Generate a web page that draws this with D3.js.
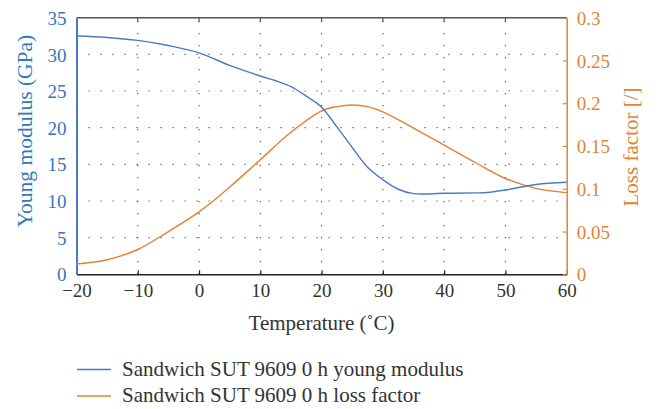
<!DOCTYPE html>
<html><head><meta charset="utf-8">
<script src="https://cdn.jsdelivr.net/npm/d3@7"></script>
<style>body{margin:0;background:#fff}svg{display:block}text{font-family:"Liberation Serif","DejaVu Serif",serif}</style>
</head><body><svg id="c" width="662" height="409"></svg>
<script>
const temps = [-20,-15,-10,-5,0,5,10,12.5,15,17.5,20,22.5,25,27.5,30,32.5,35,40,45,47,50,55,60];
const modulus = [32.5,32.3,31.9,31.2,30.2,28.5,27.05,26.4,25.6,24.3,22.8,20.1,17.3,14.6,12.9,11.6,11.0,11.05,11.1,11.15,11.5,12.25,12.55];
const lossT = [-20,-15,-10,-5,0,5,10,15,20,22.5,25,27.5,30,35,40,45,50,55,60];
const loss = [0.012,0.017,0.029,0.050,0.073,0.102,0.134,0.166,0.191,0.196,0.198,0.196,0.190,0.171,0.151,0.131,0.112,0.1005,0.0955];
const xTicks = [-20,-10,0,10,20,30,40,50,60];
const yLeftTicks = [0,5,10,15,20,25,30,35];
const yRightTicks = [0,0.05,0.1,0.15,0.2,0.25,0.3];
const legendLabels = ["Sandwich SUT 9609 0 h young modulus","Sandwich SUT 9609 0 h loss factor"];

const BLUE="#4a7bc8", BLUET="#2f79bf", ORANGE="#e3822e", ORANGET="#e08536";
const L=76.5,R=566.7,T=17.7,B=274.3;
const svg=d3.select("#c");
const x=d3.scaleLinear().domain([-20,60]).range([L,R]);
const yl=d3.scaleLinear().domain([0,35]).range([B,T]);
const yr=d3.scaleLinear().domain([0,0.3]).range([B,T]);

// grid
const g=svg.append("g").attr("stroke","#555").attr("stroke-width",1.2).attr("stroke-dasharray","1.2,10.8");
xTicks.slice(1,-1).forEach(t=>g.append("line").attr("x1",x(t)).attr("x2",x(t)).attr("y1",B).attr("y2",T));
yLeftTicks.slice(1,-1).forEach(t=>g.append("line").attr("x1",L).attr("x2",R).attr("y1",yl(t)).attr("y2",yl(t)));

// top border with inward ticks
svg.append("line").attr("x1",L).attr("x2",R).attr("y1",T).attr("y2",T).attr("stroke","#555").attr("stroke-width",1.6);
xTicks.slice(1,-1).forEach(t=>svg.append("line").attr("x1",x(t)).attr("x2",x(t)).attr("y1",T).attr("y2",T+4).attr("stroke","#555").attr("stroke-width",1.2));

// bottom axis
const xa=svg.append("g").attr("transform",`translate(0,${B})`).call(d3.axisBottom(x).tickValues(xTicks).tickSizeInner(-4).tickSizeOuter(0).tickFormat(d=>d<0?"\u2212"+Math.abs(d):d));
xa.select(".domain").attr("stroke","#222").attr("stroke-width",1.5);
xa.selectAll(".tick line").attr("stroke","#222").attr("stroke-width",1.2);
xa.selectAll("text").attr("font-size",19).attr("fill","#333").attr("dy","1.05em").attr("y",3);

// left axis
const ya=svg.append("g").attr("transform",`translate(${L},0)`).call(d3.axisLeft(yl).tickValues(yLeftTicks).tickSizeInner(0).tickSizeOuter(0).tickPadding(10));
ya.select(".domain").attr("stroke",BLUE).attr("stroke-width",2);
ya.selectAll(".tick line").remove();
ya.selectAll("text").attr("font-size",19).attr("fill",BLUET).attr("dy","0.35em");

// right axis
const yra=svg.append("g").attr("transform",`translate(${R},0)`).call(d3.axisRight(yr).tickValues(yRightTicks).tickSizeInner(-4).tickSizeOuter(0).tickPadding(10).tickFormat(d=>d===0?"0":String(+d.toFixed(2))));
yra.select(".domain").attr("stroke",ORANGE).attr("stroke-width",1.5);
yra.selectAll(".tick line").attr("stroke",ORANGE).attr("stroke-width",1.2);
yra.selectAll("text").attr("font-size",19).attr("fill",ORANGET).attr("dy","0.35em");

// lines
const lm=d3.line().x((d,i)=>x(temps[i])).y(d=>yl(d)).curve(d3.curveCatmullRom.alpha(0.5));
const ll=d3.line().x((d,i)=>x(lossT[i])).y(d=>yr(d)).curve(d3.curveCatmullRom.alpha(0.5));
svg.append("path").attr("d",ll(loss)).attr("fill","none").attr("stroke",ORANGE).attr("stroke-width",1.4);
svg.append("path").attr("d",lm(modulus)).attr("fill","none").attr("stroke",BLUE).attr("stroke-width",1.4);

// axis titles
svg.append("text").attr("x",(L+R)/2).attr("y",330).attr("text-anchor","middle").attr("font-size",21).attr("fill","#333").text("Temperature (\u02DAC)");
svg.append("text").attr("transform",`translate(31.5,131) rotate(-90)`).attr("text-anchor","middle").attr("font-size",21.5).attr("fill",BLUET).text("Young modulus (GPa)");
svg.append("text").attr("transform",`translate(638,147) rotate(-90)`).attr("text-anchor","middle").attr("font-size",21).attr("fill",ORANGET).text("Loss factor [/]");

// legend
const lg=svg.append("g");
[BLUE,ORANGE].forEach((c,i)=>{
  const yy=369.5+i*26.5;
  lg.append("line").attr("x1",77).attr("x2",111).attr("y1",yy).attr("y2",yy).attr("stroke",c).attr("stroke-width",1.5);
  lg.append("text").attr("x",122).attr("y",yy+6).attr("font-size",21).attr("fill","#333").text(legendLabels[i]);
});
</script></body></html>
